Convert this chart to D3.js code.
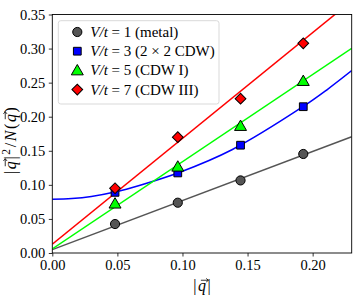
<!DOCTYPE html>
<html>
<head>
<meta charset="utf-8">
<script src="https://cdn.jsdelivr.net/npm/d3@7"></script>
<style>
  body { margin: 0; background: #fff; }
  svg text { font-family: "Liberation Serif", serif !important; }
</style>
</head>
<body>
<div id="chart"></div>
<script>
// Data
var qValues = [0.0482, 0.0964, 0.1446, 0.1928];
var metalY = [0.0425, 0.0738, 0.1065, 0.1453];
var cdw2Y = [0.0890, 0.1175, 0.1582, 0.2147];
var cdw1Y = [0.0725, 0.1267, 0.1864, 0.2524];
var cdw3Y = [0.0950, 0.1700, 0.2265, 0.3077];

// fit lines
var metalFit = [[0, 0.005], [0.23, 0.1706]];
var cdw1Fit = [[0, 0.006], [0.23, 0.3004]];
var cdw3Fit = [[0, 0.013], [0.23, 0.370]];
var cdw2Fit = [[0, 0.0790], [0.015, 0.0800], [0.03, 0.0830], [0.048, 0.0895], [0.0675, 0.0995],
  [0.098, 0.1185], [0.138, 0.1515], [0.1928, 0.2150], [0.211, 0.2395], [0.23, 0.2676]];

var xTicks = [0.00, 0.05, 0.10, 0.15, 0.20];
var yTicks = [0.00, 0.05, 0.10, 0.15, 0.20, 0.25, 0.30, 0.35];

var FONT = '"Liberation Serif", serif';

var series = [
  { label: "1 (metal)", y: metalY, fit: metalFit, color: "#555555", symbol: d3.symbolCircle, size: 66, rot: 0 },
  { label: "3 (2 \u00d7 2 CDW)", y: cdw2Y, fit: cdw2Fit, color: "#0000ff", symbol: d3.symbolSquare, size: 60, rot: 0 },
  { label: "5 (CDW I)", y: cdw1Y, fit: cdw1Fit, color: "#00ff00", symbol: d3.symbolTriangle, size: 62, rot: 0 },
  { label: "7 (CDW III)", y: cdw3Y, fit: cdw3Fit, color: "#ff0000", symbol: d3.symbolSquare, size: 58, rot: 45 }
];

// Chart setup
var svgWidth = 353;
var svgHeight = 302;
var margin = { top: 14.5, right: 1.3, bottom: 49, left: 52.3 };
var width = svgWidth - margin.left - margin.right;
var height = svgHeight - margin.top - margin.bottom;

var svg = d3.select("#chart")
  .append("svg")
  .attr("width", svgWidth)
  .attr("height", svgHeight);

var chartGroup = svg.append("g")
  .attr("transform", `translate(${margin.left}, ${margin.top})`);

var xScale = d3.scaleLinear().domain([0, 0.23]).range([0, width]);
var yScale = d3.scaleLinear().domain([0, 0.35]).range([height, 0]);

chartGroup.append("clipPath").attr("id", "clip")
  .append("rect").attr("width", width).attr("height", height);

var lineGen = d3.line()
  .x(d => xScale(d[0]))
  .y(d => yScale(d[1]))
  .curve(d3.curveCatmullRom);

var plot = chartGroup.append("g").attr("clip-path", "url(#clip)");

series.forEach(function(s) {
  plot.append("path")
    .datum(s.fit)
    .attr("d", lineGen)
    .attr("fill", "none")
    .attr("stroke", s.color)
    .attr("stroke-width", 1.5);
});

function markerTransform(s, x, y) {
  var t = `translate(${x}, ${y})`;
  if (s.rot) t += ` rotate(${s.rot})`;
  if (s.symbol === d3.symbolTriangle) t += " translate(0,1)";
  return t;
}

series.forEach(function(s) {
  chartGroup.append("g").selectAll("path")
    .data(qValues.map((q, i) => [q, s.y[i]]))
    .enter()
    .append("path")
    .attr("d", d3.symbol().type(s.symbol).size(s.size))
    .attr("transform", d => markerTransform(s, xScale(d[0]), yScale(d[1])))
    .attr("fill", s.color)
    .attr("stroke", "#000")
    .attr("stroke-width", 1);
});

// Axes
var bottomAxis = d3.axisBottom(xScale).tickValues(xTicks).tickFormat(d3.format(".2f")).tickSizeInner(3.5).tickSizeOuter(0).tickPadding(3.5);
var leftAxis = d3.axisLeft(yScale).tickValues(yTicks).tickFormat(d3.format(".2f")).tickSizeInner(3.5).tickSizeOuter(0).tickPadding(3.5);

var xAxis = chartGroup.append("g")
  .attr("transform", `translate(0, ${height})`)
  .call(bottomAxis);
var yAxis = chartGroup.append("g").call(leftAxis);

[xAxis, yAxis].forEach(function(a) {
  a.attr("font-family", null).attr("font-size", 14.5);
  a.select(".domain").remove();
  a.selectAll("text").attr("fill", "#000").style("font-family", FONT);
  a.selectAll("line").attr("stroke", "#000").attr("stroke-width", 0.8);
});

// frame
chartGroup.append("rect")
  .attr("width", width)
  .attr("height", height)
  .attr("fill", "none")
  .attr("stroke", "#000")
  .attr("stroke-width", 0.9);

// draws a little vector arrow over given characters of a text
function addArrows(textSel, indices, parent) {
  var node = textSel.node();
  indices.forEach(function(i) {
    var b = node.getExtentOfChar(i);
    var x0 = b.x + b.width * 0.3, x1 = b.x + b.width + 0.8;
    var y = b.y + b.height * 0.22;
    parent.append("path")
      .attr("d", `M${x0},${y}H${x1} M${x1 - 2.2},${y - 1.8}L${x1},${y}L${x1 - 2.2},${y + 1.8}`)
      .attr("fill", "none")
      .attr("stroke", "#000")
      .attr("stroke-width", 0.8);
  });
}

// Axis labels
var xLabelG = chartGroup.append("g");
var xLabel = xLabelG.append("text")
  .attr("x", width / 2 + 0.8)
  .attr("y", height + 37.5)
  .attr("text-anchor", "middle")
  .style("font-family", FONT)
  .style("letter-spacing", "1.6px")
  .attr("font-size", 16);
xLabel.append("tspan").text("|");
xLabel.append("tspan").attr("font-style", "italic").text("q");
xLabel.append("tspan").text("|");
addArrows(xLabel, [1], xLabelG);

var yLabelG = chartGroup.append("g")
  .attr("transform", `translate(${15.5 - margin.left}, ${height / 2 + 6}) rotate(-90)`);
var yLabel = yLabelG.append("text")
  .attr("text-anchor", "middle")
  .style("font-family", FONT)
  .style("letter-spacing", "1.6px")
  .attr("font-size", 16);
yLabel.append("tspan").text("|");
yLabel.append("tspan").attr("font-style", "italic").text("q");
yLabel.append("tspan").text("|");
yLabel.append("tspan").attr("font-size", 11.5).attr("dy", -6).text("2");
yLabel.append("tspan").attr("dy", 6).text("/");
yLabel.append("tspan").attr("font-style", "italic").text("N");
yLabel.append("tspan").text("(");
yLabel.append("tspan").attr("font-style", "italic").text("q");
yLabel.append("tspan").text(")");
addArrows(yLabel, [1, 7], yLabelG);

// Legend
var legend = chartGroup.append("g").attr("transform", "translate(6, 6.2)");
legend.append("rect")
  .attr("width", 160.7)
  .attr("height", 83.3)
  .attr("rx", 2.5)
  .attr("fill", "#fff")
  .attr("fill-opacity", 0.8)
  .attr("stroke", "#d9d9d9")
  .attr("stroke-width", 1);

series.forEach(function(s, i) {
  var row = legend.append("g").attr("transform", `translate(0, ${11.3 + i * 19.2})`);
  row.append("path")
    .attr("d", d3.symbol().type(s.symbol).size(s.size))
    .attr("transform", markerTransform(s, 19, 0))
    .attr("fill", s.color)
    .attr("stroke", "#000")
    .attr("stroke-width", 1);
  var t = row.append("text")
    .attr("x", 32)
    .attr("dy", "0.33em")
    .style("font-family", FONT)
    .attr("font-size", 15);
  t.append("tspan").attr("font-style", "italic").text("V/t");
  t.append("tspan").text(" = " + s.label);
});
</script>
</body>
</html>
